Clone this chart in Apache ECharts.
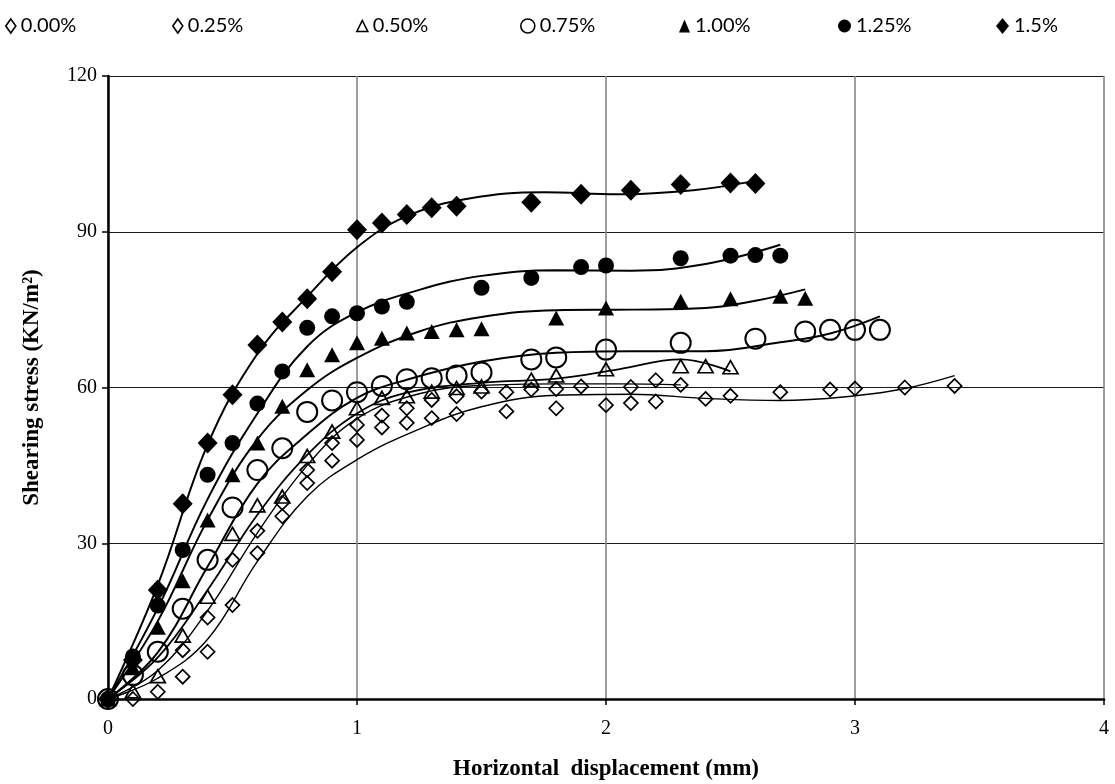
<!DOCTYPE html>
<html>
<head>
<meta charset="utf-8">
<script src="https://cdn.jsdelivr.net/npm/echarts@6/dist/echarts.min.js"></script>
<style>
html,body{margin:0;padding:0;background:#fff;}
#chart{width:1115px;height:784px;}
</style>
</head>
<body>
<div id="chart"></div>
<script>
// ---- data ----
const legendNames = ['0.00%', '0.25%', '0.50%', '0.75%', '1.00%', '1.25%', '1.5%'];
const xTicks = [0, 1, 2, 3, 4];
const yTicks = [0, 30, 60, 90, 120];

const pts000 = [[0,0],[0.1,0],[0.2,1.4],[0.3,4.3],[0.4,9.1],[0.5,18.1],[0.6,28.1],[0.7,35.2],[0.8,41.6],[0.9,45.9],[1.0,49.9],[1.1,52.3],[1.2,53.2],[1.3,54.1],[1.4,54.9],[1.6,55.4],[1.8,56.0],[2.0,56.6],[2.1,57.0],[2.2,57.3],[2.4,57.8],[2.5,58.4],[2.7,59.1],[2.9,59.6],[3.0,59.8],[3.2,60.0],[3.4,60.3]];
const pts025 = [[0,0],[0.3,9.4],[0.4,15.7],[0.5,26.8],[0.6,32.4],[0.7,37.8],[0.8,44.1],[0.9,49.3],[1.0,52.8],[1.1,54.6],[1.2,56.0],[1.3,57.6],[1.4,58.3],[1.5,59.2],[1.6,59.1],[1.7,59.6],[1.8,59.7],[1.9,60.2],[2.1,60.1],[2.2,61.4],[2.3,60.5]];
const pts050 = [[0,0],[0.1,1.5],[0.2,4.4],[0.3,12.2],[0.4,19.7],[0.5,31.8],[0.6,37.3],[0.7,39.0],[0.8,46.8],[0.9,51.5],[1.0,56.0],[1.1,58.0],[1.2,58.3],[1.3,59.2],[1.4,59.9],[1.5,60.2],[1.7,61.5],[1.8,62.3],[2.0,63.5],[2.3,64.1],[2.4,64.1],[2.5,63.9]];
const pts075 = [[0,0],[0.1,4.6],[0.2,9.1],[0.3,17.4],[0.4,26.8],[0.5,36.9],[0.6,44.1],[0.7,48.3],[0.8,55.3],[0.9,57.5],[1.0,59.1],[1.1,60.3],[1.2,61.6],[1.3,61.8],[1.4,62.3],[1.5,62.9],[1.7,65.4],[1.8,65.8],[2.0,67.3],[2.3,68.6],[2.6,69.4],[2.8,70.8],[2.9,71.1],[3.0,71.1],[3.1,71.1]];
const pts100 = [[0,0],[0.1,6.0],[0.2,13.8],[0.3,22.8],[0.4,34.5],[0.5,43.2],[0.6,49.3],[0.7,56.4],[0.8,63.4],[0.9,66.3],[1.0,68.6],[1.1,69.5],[1.2,70.5],[1.3,70.8],[1.4,71.1],[1.5,71.3],[1.8,73.4],[2.0,75.3],[2.3,76.6],[2.5,77.1],[2.7,77.6],[2.8,77.2]];
const pts125 = [[0,0],[0.1,8.2],[0.2,18.0],[0.3,28.7],[0.4,43.2],[0.5,49.3],[0.6,56.9],[0.7,63.1],[0.8,71.5],[0.9,73.7],[1.0,74.3],[1.1,75.6],[1.2,76.5],[1.5,79.2],[1.7,81.1],[1.9,83.2],[2.0,83.5],[2.3,84.9],[2.5,85.4],[2.6,85.5],[2.7,85.4]];
const pts150 = [[0,0],[0.1,7.5],[0.2,21.0],[0.3,37.6],[0.4,49.3],[0.5,58.6],[0.6,68.2],[0.7,72.6],[0.8,77.1],[0.9,82.3],[1.0,90.4],[1.1,91.7],[1.2,93.3],[1.3,94.6],[1.4,94.9],[1.7,95.7],[1.9,97.2],[2.1,98.0],[2.3,99.1],[2.5,99.4],[2.6,99.3]];

// trend curves as drawn in the picture
const fit000 = [[0,0],[0.2,4],[0.4,11.5],[0.6,26.5],[0.8,39],[1.0,46.1],[1.25,52],[1.5,56.3],[1.8,58.5],[2.1,58.7],[2.4,57.9],[2.7,57.5],[3.0,58.4],[3.2,59.8],[3.4,62.3]];
const fit025 = [[0,0],[0.2,5.5],[0.4,17],[0.6,32],[0.8,45],[1.0,54],[1.25,58.8],[1.5,60.4],[1.8,60.7],[2.05,60.7],[2.3,60.5]];
const fit050 = [[0,0],[0.2,8],[0.4,21],[0.6,35.5],[0.8,47],[1.0,55],[1.2,59],[1.5,60.9],[1.8,61.7],[2.05,63.5],[2.3,65.4],[2.5,63.1]];
const fit075 = [[0,0],[0.2,9],[0.4,25.5],[0.6,41.5],[0.8,51],[1.0,58],[1.2,61.5],[1.5,65],[1.8,66.7],[2.1,67],[2.4,67],[2.7,68.7],[2.9,70.4],[3.1,73.7]];
const fit100 = [[0,0],[0.2,15],[0.4,34.5],[0.6,50],[0.8,59.5],[1.0,65.7],[1.25,70.8],[1.5,73.6],[1.8,74.9],[2.1,75],[2.4,75.3],[2.6,76.7],[2.8,78.9]];
const fit125 = [[0,0],[0.2,17.5],[0.4,38.5],[0.6,55],[0.8,67.9],[1.0,74.5],[1.25,78.8],[1.5,81.5],[1.8,82.6],[2.1,82.5],[2.4,83.8],[2.7,87.5]];
const fit150 = [[0,0],[0.2,22],[0.4,49],[0.6,66.5],[0.8,77.5],[1.0,87],[1.2,93],[1.45,96.4],[1.75,97.6],[2.05,97.2],[2.35,98],[2.6,99.8]];

const pointSets = [pts000, pts025, pts050, pts075, pts100, pts125, pts150];
const fitSets = [fit000, fit025, fit050, fit075, fit100, fit125, fit150];

// ---- styling ----
const marks = [
  {symbol:'diamond',  size:[14,14], fill:'transparent', bw:1.7, lw:1.4, legW:10, legH:14},
  {symbol:'diamond',  size:[14,14], fill:'transparent', bw:1.7, lw:1.4, legW:10, legH:14},
  {symbol:'triangle', size:[15,13], fill:'transparent', bw:1.7, lw:1.8, legW:11, legH:11},
  {symbol:'circle',   size:20,      fill:'transparent', bw:2.0, lw:2.0, legW:14, legH:14},
  {symbol:'triangle', size:[16,15], fill:'#000',        bw:0,   lw:2.0, legW:11, legH:13},
  {symbol:'circle',   size:16,      fill:'#000',        bw:0,   lw:2.0, legW:13, legH:13},
  {symbol:'diamond',  size:[20,21], fill:'#000',        bw:0,   lw:2.0, legW:13, legH:16}
];
const legendLeft = [5, 172, 356, 520, 679, 838, 996];

const serif = '"Liberation Serif","Times New Roman",serif';
const series = [];
fitSets.forEach((d, i) => {
  series.push({
    name: 'fit ' + legendNames[i], type: 'line', data: d,
    smooth: 0.4, symbol: 'none', silent: true,
    lineStyle: {color: '#000', width: marks[i].lw}, z: 2
  });
});
pointSets.forEach((d, i) => {
  const m = marks[i];
  series.push({
    name: legendNames[i], type: 'scatter', data: d,
    symbol: m.symbol, symbolSize: m.size,
    itemStyle: {color: m.fill, borderColor: '#000', borderWidth: m.bw, opacity: 1},
    z: 3 + i
  });
});

const legends = legendNames.map((n, i) => ({
  data: [n], left: legendLeft[i], top: 16, orient: 'horizontal',
  itemWidth: marks[i].legW, itemHeight: marks[i].legH, symbolKeepAspect: false,
  itemGap: 0, padding: 0, selectedMode: false,
  textStyle: {fontFamily: 'Lato, "Open Sans", sans-serif', fontSize: 20, color: '#000'},
  itemStyle: {borderColor: '#000', borderWidth: marks[i].bw > 0 ? 1.6 : 0}
}));

const chart = echarts.init(document.getElementById('chart'), null, {renderer: 'canvas'});
chart.setOption({
  backgroundColor: '#fff',
  animation: false,
  legend: legends,
  grid: {left: 108, right: 11, top: 76, bottom: 85, containLabel: false, outerBoundsMode: 'none'},
  xAxis: {
    type: 'value', min: xTicks[0], max: xTicks[xTicks.length-1], interval: 1,
    name: 'Horizontal  displacement (mm)', nameLocation: 'middle', nameGap: 59,
    nameTextStyle: {fontFamily: serif, fontWeight: 'bold', fontSize: 23, color: '#000'},
    axisLine: {show: true, onZero: false, lineStyle: {color: '#000', width: 2.5}},
    axisTick: {show: true, inside: false, length: 6, lineStyle: {color: '#000', width: 1.5}},
    axisLabel: {margin: 20, fontFamily: serif, fontSize: 20, color: '#000'},
    splitLine: {show: true, lineStyle: {color: '#868686', width: 1.6}}
  },
  yAxis: {
    type: 'value', min: yTicks[0], max: yTicks[yTicks.length-1], interval: 30,
    name: 'Shearing stress (KN/m²)', nameLocation: 'middle', nameGap: 64, nameRotate: 90,
    nameTextStyle: {fontFamily: serif, fontWeight: 'bold', fontSize: 23, color: '#000'},
    axisLine: {show: true, onZero: false, lineStyle: {color: '#000', width: 2.5}},
    axisTick: {show: true, inside: false, length: 6, lineStyle: {color: '#000', width: 1.5}},
    axisLabel: {margin: 11, fontFamily: serif, fontSize: 20, color: '#000'},
    splitLine: {show: true, lineStyle: {color: '#1a1a1a', width: 1}}
  },
  series: series
});
</script>
</body>
</html>
